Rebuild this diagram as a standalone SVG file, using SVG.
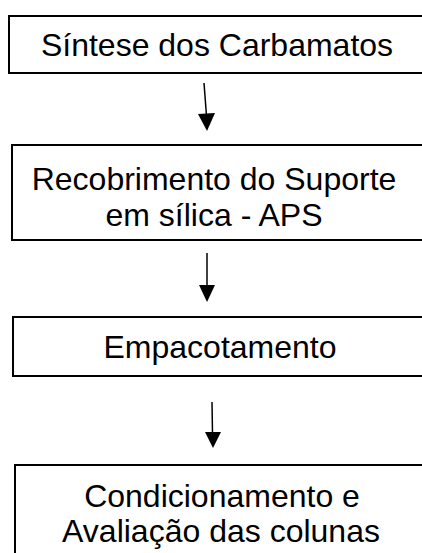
<svg xmlns="http://www.w3.org/2000/svg" width="422" height="553" viewBox="0 0 422 553">
<style>
.box{fill:#fff;stroke:#000;stroke-width:2}
.t{font-family:"Liberation Sans",Arial,sans-serif;font-size:32px;fill:#000;text-anchor:middle}
.c{stroke:#000;stroke-width:1.5;fill:none}
.h{fill:#000}
</style>
<rect width="422" height="553" fill="#fff"/>
<g id="n1">
<rect class="box" x="9" y="16" width="430" height="57"/>
<text class="t" x="217" y="56">Síntese dos Carbamatos</text>
</g>
<g id="n2">
<rect class="box" x="12" y="145" width="430" height="95"/>
<text class="t" x="214" y="190">Recobrimento do Suporte</text>
<text class="t" x="214" y="226">em sílica - APS</text>
</g>
<g id="n3">
<rect class="box" x="13" y="317" width="430" height="59"/>
<text class="t" x="220" y="358">Empacotamento</text>
</g>
<g id="n4">
<rect class="box" x="15" y="465" width="430" height="100"/>
<text class="t" x="222" y="507">Condicionamento e</text>
<text class="t" x="221" y="542">Avaliação das colunas</text>
</g>
<g id="connectors">
<path class="c" d="M204 83 L206.5 116"/>
<polygon class="h" points="198,114 215,113 207,131"/>
<path class="c" d="M207 253 L207 287"/>
<polygon class="h" points="199,285 215,285 207,302"/>
<path class="c" d="M212 402 L212.5 434"/>
<polygon class="h" points="205,432 221,432 213,448"/>
</g>
</svg>
